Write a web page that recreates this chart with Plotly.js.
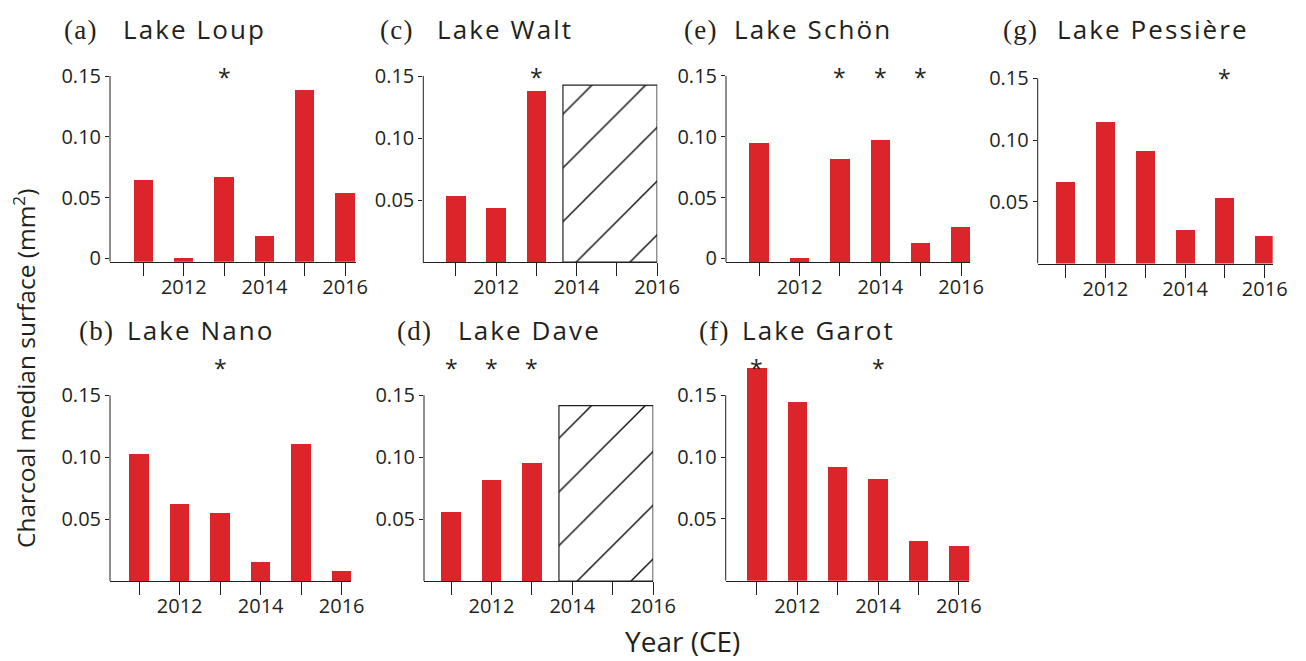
<!DOCTYPE html>
<html>
<head>
<meta charset="utf-8">
<script src="https://cdn.plot.ly/plotly-3.0.1.min.js"></script>
<style>
  html, body { margin: 0; padding: 0; background: #ffffff; }
  #chart { width: 1306px; height: 661px; }
  /* panel names and letters are set slightly tracked */
  text.annotation-text[style*="font-size: 26px"] { letter-spacing: 2.1px; }
  text.annotation-text[style*="font-size: 27px"] { letter-spacing: 1.2px; }
</style>
</head>
<body>
<div id="chart"></div>
<script>
// ---- data -------------------------------------------------------------
const years = [2011, 2012, 2013, 2014, 2015, 2016];
const yearTickText = ['', '2012', '', '2014', '', '2016'];

const lakeNames = ['Lake Loup', 'Lake Nano', 'Lake Walt', 'Lake Dave', 'Lake Schön', 'Lake Garot', 'Lake Pessière'];
const panelLetters = ['(a)', '(b)', '(c)', '(d)', '(e)', '(f)', '(g)'];

// charcoal median surface (mm²) per year, 2011 onwards
const loupValues     = [0.0644, 0.0005, 0.0669, 0.0184, 0.1385, 0.0537];
const nanoValues     = [0.1026, 0.0622, 0.0549, 0.0153, 0.1107, 0.0081];
const waltValues     = [0.0532, 0.0435, 0.1380];
const daveValues     = [0.0557, 0.0816, 0.0953];
const schonValues    = [0.0949, 0.0005, 0.0817, 0.0974, 0.0126, 0.0258];
const garotValues    = [0.1718, 0.1443, 0.0918, 0.0821, 0.0321, 0.0280];
const pessiereValues = [0.0660, 0.1146, 0.0911, 0.0271, 0.0530, 0.0223];

// years marked with an asterisk
const loupStars     = [2013];
const nanoStars     = [2013];
const waltStars     = [2013];
const daveStars     = [2011, 2012, 2013];
const schonStars    = [2013, 2014, 2015];
const garotStars    = [2011, 2014];
const pessiereStars = [2015];
const starLevels    = [0.150, 0.173, 0.150, 0.173, 0.150, 0.173, 0.151];

// hatched period without samples (Walt, Dave)
const gapStart = [2013.66, 2013.67];
const gapEnd   = [2016.0, 2016.0];
const gapTop   = [0.1427, 0.1416];

const yTicksWithZero = [0, 0.05, 0.10, 0.15];
const yTickTextWithZero = ['0', '0.05', '0.10', '0.15'];
const yTicksNoZero = [0.05, 0.10, 0.15];
const yTickTextNoZero = ['0.05', '0.10', '0.15'];
const yAxisTop = 0.15;     // the drawn axis line stops at the last tick
const yHeadroom = 0.18;    // room above it for the asterisks

// ---- styling ----------------------------------------------------------
const W = 1306, H = 661;
const INK = '#231f20';
const RED = '#dc252b';
const SANS = '"Open Sans", "Noto Sans", sans-serif';
const SERIF = '"Liberation Serif", "DejaVu Serif", serif';

// panel frames in pixels: plot left/right, y of the 0.15 tick, y of the x axis
const panels = [
  { values: loupValues,     stars: loupStars,     gap: -1, box: [110, 356, 76, 261.7],    xr: [2010.17, 2016.27], y0: -0.0028, zero: true,  title: [62, 123, 39.3] },
  { values: nanoValues,     stars: nanoStars,     gap: -1, box: [110, 351, 395.3, 581],   xr: [2010.28, 2016.23], y0: 0,       zero: false, title: [77, 127, 340] },
  { values: waltValues,     stars: waltStars,     gap: 0,  box: [423.3, 657.3, 76, 262],  xr: [2010.19, 2016.005], y0: 0,      zero: false, title: [378, 437, 39.3] },
  { values: daveValues,     stars: daveStars,     gap: 1,  box: [424, 653.3, 395.3, 581], xr: [2010.33, 2016.005], y0: 0,      zero: false, title: [395, 458, 340] },
  { values: schonValues,    stars: schonStars,    gap: -1, box: [726, 970, 76, 262],      xr: [2010.18, 2016.22], y0: -0.003,  zero: true,  title: [682, 734, 39.3] },
  { values: garotValues,    stars: garotStars,    gap: -1, box: [725.7, 969, 395.3, 580.7], xr: [2010.23, 2016.25], y0: 0,     zero: false, title: [697, 742, 340] },
  { values: pessiereValues, stars: pessiereStars, gap: -1, box: [1037.7, 1272.7, 78.3, 263.5], xr: [2010.30, 2016.2], y0: 0,   zero: false, title: [1001, 1057, 39.3] }
];

const traces = [];
const annotations = [];
const shapes = [];
const layout = {
  width: W, height: H,
  margin: { l: 0, r: 0, t: 0, b: 0 },
  paper_bgcolor: '#ffffff',
  plot_bgcolor: 'rgba(0,0,0,0)',
  showlegend: false,
  bargap: 0,
  font: { family: SANS, color: INK }
};

const px = x => x / W;
const py = y => 1 - y / H;

panels.forEach((p, i) => {
  const s = i === 0 ? '' : String(i + 1);
  const [x0, x1, yTick, yBot] = p.box;
  const pxPerUnit = (yBot - yTick) / (yAxisTop - p.y0);
  const yTopPx = yTick - (yHeadroom - yAxisTop) * pxPerUnit;

  layout['xaxis' + s] = {
    domain: [px(x0), px(x1)], range: p.xr, anchor: 'y' + s,
    tickmode: 'array', tickvals: years, ticktext: yearTickText,
    ticks: 'outside', ticklen: 13, tickwidth: 1, tickcolor: INK,
    ticklabelstandoff: -6,
    showline: true, linecolor: INK, linewidth: 1,
    showgrid: false, zeroline: false, fixedrange: true,
    tickfont: { family: SANS, size: 20, color: INK }
  };
  layout['yaxis' + s] = {
    domain: [py(yBot), py(yTopPx)], range: [p.y0, yHeadroom], anchor: 'x' + s,
    tickmode: 'array',
    tickvals: p.zero ? yTicksWithZero : yTicksNoZero,
    ticktext: p.zero ? yTickTextWithZero : yTickTextNoZero,
    ticks: 'outside', ticklen: 4, tickwidth: 1, tickcolor: INK,
    showline: false,
    showgrid: false, zeroline: false, fixedrange: true,
    tickfont: { family: SANS, size: 20, color: INK }
  };

  // vertical axis line, from the x axis up to the top tick
  shapes.push({
    type: 'line', xref: 'x' + s + ' domain', yref: 'y' + s,
    x0: 0, x1: 0, y0: p.y0, y1: yAxisTop,
    line: { color: INK, width: 1 }
  });

  // bars rise from the bottom of the axis frame
  const base = Math.min(0, p.y0);
  traces.push({
    type: 'bar',
    x: years.slice(0, p.values.length),
    y: p.values.map(v => v - base),
    base: base,
    width: 0.48,
    marker: { color: RED, line: { width: 0 } },
    hoverinfo: 'skip',
    xaxis: 'x' + s, yaxis: 'y' + s
  });

  if (p.gap >= 0) {
    const g = p.gap;
    traces.push({
      type: 'bar',
      x: [(gapStart[g] + gapEnd[g]) / 2],
      y: [gapTop[g]],
      width: [gapEnd[g] - gapStart[g]],
      marker: {
        color: '#ffffff',
        line: { color: INK, width: 1.2 },
        pattern: { shape: '/', size: 38, solidity: 0.035, fgcolor: '#000000', bgcolor: '#ffffff', fillmode: 'replace' }
      },
      hoverinfo: 'skip',
      xaxis: 'x' + s, yaxis: 'y' + s
    });
  }

  // asterisks
  p.stars.forEach(yr => {
    annotations.push({
      xref: 'x' + s, yref: 'y' + s, x: yr, y: starLevels[i],
      text: '*', showarrow: false, xanchor: 'center', yanchor: 'middle', yshift: -1,
      font: { family: SANS, size: 23, color: INK }
    });
  });

  // panel letter and lake name
  const [lx, nx, baseline] = p.title;
  annotations.push({
    xref: 'paper', yref: 'paper', x: px(lx), y: py(baseline - 9), xanchor: 'left', yanchor: 'middle',
    text: panelLetters[i], showarrow: false,
    font: { family: SERIF, size: 27, color: INK }
  });
  annotations.push({
    xref: 'paper', yref: 'paper', x: px(nx - 2), y: py(baseline - 10), xanchor: 'left', yanchor: 'middle',
    text: lakeNames[i], showarrow: false,
    font: { family: SANS, size: 26, color: INK }
  });
});

// shared axis titles
annotations.push({
  xref: 'paper', yref: 'paper', x: px(24), y: py(369), xanchor: 'center', yanchor: 'middle',
  text: 'Charcoal median surface (mm<sup>2</sup>)', textangle: -90, showarrow: false,
  font: { family: SANS, size: 24.5, color: INK }
});
annotations.push({
  xref: 'paper', yref: 'paper', x: px(682), y: 0, xanchor: 'center', yanchor: 'bottom', borderpad: 0,
  text: 'Year (CE)', showarrow: false,
  font: { family: SANS, size: 28, color: INK }
});

layout.annotations = annotations;
layout.shapes = shapes;

Plotly.newPlot('chart', traces, layout, { displayModeBar: false, staticPlot: true });
</script>
</body>
</html>
